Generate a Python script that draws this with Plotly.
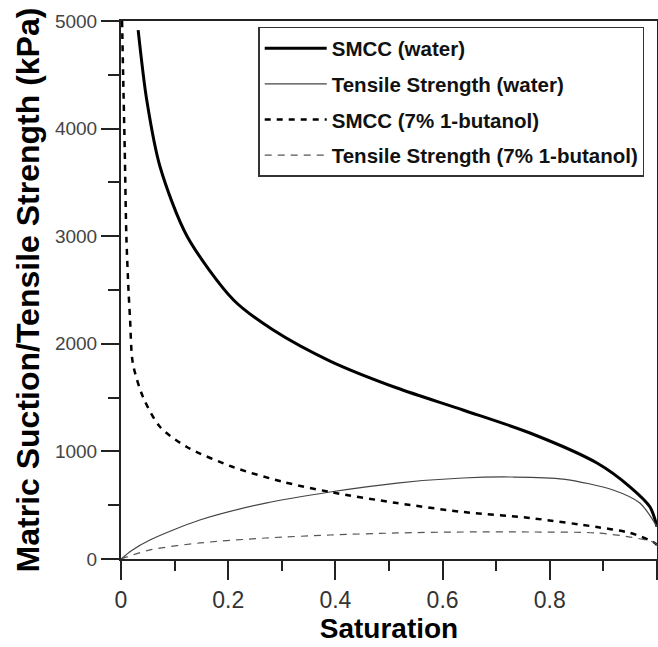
import plotly.graph_objects as go

# SMCC (water)
smcc_w_x = [0.032, 0.048, 0.073, 0.123, 0.21, 0.284, 0.39, 0.515, 0.638, 0.763, 0.888, 0.95, 0.987, 1.0]
smcc_w_y = [4916, 4266, 3643, 3002, 2407, 2128, 1840, 1589, 1385, 1171, 892, 669, 483, 300]

# Tensile Strength (water)
ts_w_x = [0.0, 0.02, 0.054, 0.147, 0.27, 0.39, 0.515, 0.638, 0.73, 0.825, 0.918, 0.968, 1.0]
ts_w_y = [0, 80, 177, 362, 520, 623, 706, 753, 762, 743, 641, 520, 300]

# SMCC (7% 1-butanol)
smcc_b_x = [0.002, 0.004, 0.007, 0.010, 0.014, 0.017, 0.022, 0.041, 0.073, 0.123, 0.209, 0.303, 0.39, 0.515, 0.638, 0.763, 0.888, 0.95, 0.993, 1.0]
smcc_b_y = [5000, 4500, 3800, 3000, 2500, 2221, 1822, 1506, 1227, 1041, 855, 716, 623, 520, 437, 381, 297, 242, 158, 130]

# Tensile Strength (7% 1-butanol)
ts_b_x = [0.0, 0.054, 0.147, 0.27, 0.39, 0.515, 0.638, 0.763, 0.888, 0.95, 0.993, 1.0]
ts_b_y = [0, 84, 149, 195, 223, 242, 251, 251, 242, 204, 158, 130]

names = ["SMCC (water)", "Tensile Strength (water)", "SMCC (7% 1-butanol)", "Tensile Strength (7% 1-butanol)"]

x_ticks = [0, 0.2, 0.4, 0.6, 0.8, 1]
x_tick_labels = ["0", "0.2", "0.4", "0.6", "0.8", "1"]
y_ticks = [0, 1000, 2000, 3000, 4000, 5000]

FONT = "Liberation Sans, Arial, sans-serif"

fig = go.Figure()
fig.add_trace(go.Scatter(x=smcc_w_x, y=smcc_w_y, mode="lines", name=names[0], legendgroup="a",
                         line=dict(color="#000000", width=3, shape="spline", smoothing=0.8)))
fig.add_trace(go.Scatter(x=ts_w_x, y=ts_w_y, mode="lines", name=names[1], legendgroup="b",
                         line=dict(color="#444444", width=1.2, shape="spline", smoothing=0.8)))
fig.add_trace(go.Scatter(x=smcc_b_x, y=smcc_b_y, mode="lines", name=names[2], legendgroup="c",
                         line=dict(color="#000000", width=2.5, dash="6px,6px", shape="spline", smoothing=0.8)))
fig.add_trace(go.Scatter(x=ts_b_x, y=ts_b_y, mode="lines", name=names[3], legendgroup="d",
                         line=dict(color="#555555", width=1.2, dash="7px,6px", shape="spline", smoothing=0.8)))

fig.update_layout(
    width=658, height=647,
    margin=dict(l=121, r=1, t=21, b=88, autoexpand=False),
    plot_bgcolor="white", paper_bgcolor="white",
    font=dict(family=FONT, color="#000000"),
    showlegend=True,
    legend=dict(x=0.256, y=0.989, xanchor="left", yanchor="top",
                bordercolor="#333333", borderwidth=1.5, bgcolor="white",
                font=dict(size=20.5, family=FONT, color="#111111", weight="bold"),
                itemwidth=62, tracegroupgap=6),
    xaxis=dict(range=[0, 1], tickvals=x_ticks, ticktext=x_tick_labels,
               ticks="outside", ticklen=19, tickwidth=2, tickcolor="#222",
               minor=dict(dtick=0.1, ticks="outside", ticklen=10, tickwidth=2, tickcolor="#222"),
               showline=True, linecolor="#222", linewidth=2, mirror=True,
               showgrid=False, zeroline=False,
               tickfont=dict(size=23, color="#333"),
               title=dict(text="<b>Saturation</b>", font=dict(size=28), standoff=2)),
    yaxis=dict(range=[0, 5000], tickvals=y_ticks,
               ticks="outside", ticklen=18, tickwidth=2, tickcolor="#222",
               minor=dict(dtick=500, ticks="outside", ticklen=11, tickwidth=2, tickcolor="#222"),
               showline=True, linecolor="#222", linewidth=2, mirror=True,
               showgrid=False, zeroline=False,
               tickfont=dict(size=19, color="#444"),
               title=dict(text="<b>Matric Suction/Tensile Strength (kPa)</b>", font=dict(size=32), standoff=6)),
)

fig.write_html("out.html", config={"displayModeBar": False},
               post_script="document.body.style.margin='0';document.body.style.overflow='hidden';")
